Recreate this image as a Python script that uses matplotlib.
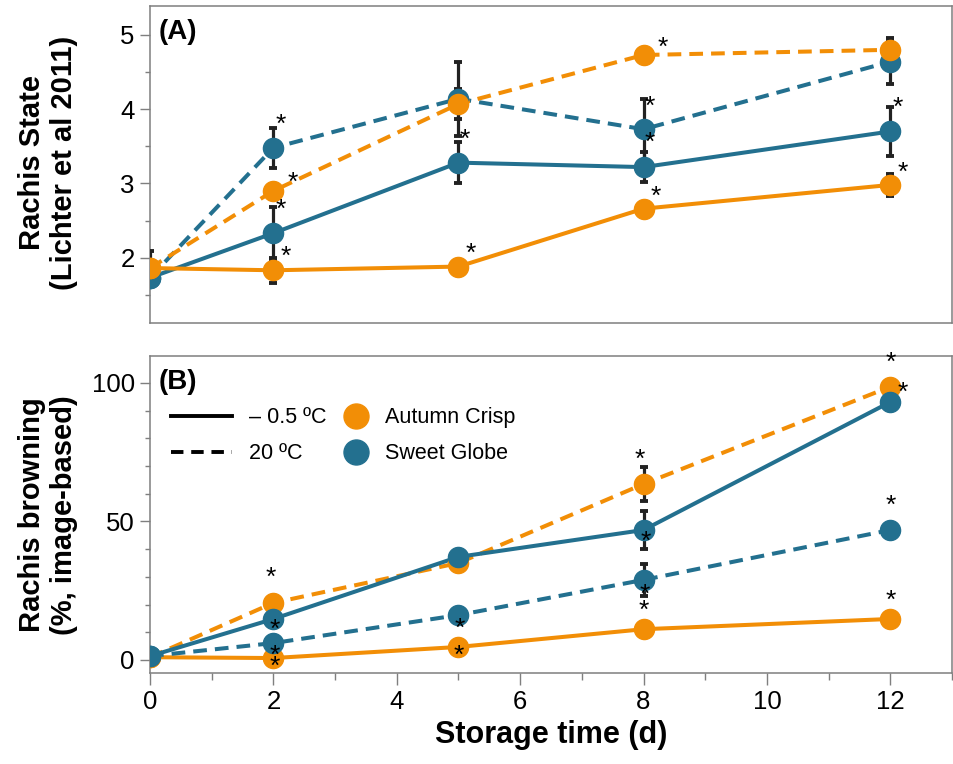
import matplotlib
matplotlib.use("Agg")
import matplotlib.pyplot as plt
from matplotlib.lines import Line2D
from matplotlib.ticker import MultipleLocator
import numpy as np

# ---------------- data ----------------
days = [0, 2, 5, 8, 12]

# Panel A: Rachis state (Lichter et al 2011)
state_ac_cold = [1.86, 1.83, 1.88, 2.66, 2.98]
state_ac_cold_err = [0.23, 0.17, 0.0, 0.0, 0.15]
state_sg_cold = [1.73, 2.33, 3.28, 3.22, 3.70]
state_sg_cold_err = [0.0, 0.35, 0.28, 0.20, 0.33]
state_ac_warm = [1.86, 2.90, 4.07, 4.73, 4.80]
state_ac_warm_err = [0.0, 0.0, 0.20, 0.0, 0.16]
state_sg_warm = [1.73, 3.48, 4.14, 3.73, 4.64]
state_sg_warm_err = [0.0, 0.27, 0.50, 0.41, 0.30]

# Panel B: Rachis browning (%, image-based)
brown_ac_cold = [1.0, 0.7, 4.7, 11.1, 14.8]
brown_ac_cold_err = [0, 0, 0, 0, 0]
brown_sg_cold = [1.4, 14.8, 37.2, 46.9, 93.1]
brown_sg_cold_err = [0, 0, 0, 6.7, 0]
brown_ac_warm = [1.0, 20.6, 35.0, 63.5, 98.6]
brown_ac_warm_err = [0, 0, 0, 6.3, 0]
brown_sg_warm = [1.4, 6.1, 16.2, 28.9, 46.9]
brown_sg_warm_err = [0, 0, 0, 5.8, 0]

# significance stars: day -> (dx, dy) label offset in pixels (image y down)
stars_A = {
    "sg_warm": {2: (7, -23), 8: (6, -22)},
    "ac_warm": {2: (19, -8), 8: (19, -7)},
    "sg_cold": {2: (7, -23), 5: (6, -23), 8: (6, -24), 12: (7, -24)},
    "ac_cold": {2: (12, -13), 5: (12, -13), 8: (12, -12), 12: (12, -12)},
}
stars_B = {
    "ac_warm": {2: (-3, -25), 8: (-4, -24), 12: (0, -24)},
    "sg_cold": {2: (1, 11), 8: (2, 12), 12: (12, -9)},
    "sg_warm": {2: (1, 13), 5: (1, 14), 8: (1, 15), 12: (0, -24)},
    "ac_cold": {2: (1, 9), 5: (0, 9), 8: (0, -18), 12: (0, -18)},
}

cultivars = ["Autumn Crisp", "Sweet Globe"]
temps = ["\u2013 0.5 \u00baC", "20 \u00baC"]
ORANGE = "#F28E06"
BLUE = "#23708F"

NARROW = ["Liberation Sans Narrow", "Liberation Sans", "DejaVu Sans"]
plt.rcParams["font.family"] = ["Liberation Sans", "DejaVu Sans"]

fig = plt.figure(figsize=(9.54, 7.64), dpi=100)
axA = fig.add_axes([150 / 954, 1 - 323 / 764, 802 / 954, 317 / 764])
axB = fig.add_axes([150 / 954, 1 - 673 / 764, 802 / 954, 317 / 764])

PX = 0.72  # points per pixel at dpi 100


def draw_series(ax, y, err, color, ls, stars):
    ax.plot(days, y, color=color, ls=ls, lw=2.9, zorder=2,
            dashes=(3.4, 2.0) if ls == "--" else (None, None))
    e = np.array(err, dtype=float)
    mask = e > 0
    if mask.any():
        ax.errorbar(np.array(days)[mask], np.array(y)[mask], yerr=e[mask],
                    fmt="none", ecolor="#222222", elinewidth=2.3, capsize=2.6,
                    capthick=2.8, zorder=3)
    ax.plot(days, y, ls="none", marker="o", ms=14.5, color=color,
            mec=color, zorder=4)
    for d, (dx, dy) in stars.items():
        i = days.index(d)
        ax.annotate("*", (d, y[i]), xytext=(dx * PX, -dy * PX),
                    textcoords="offset points", ha="center", va="center",
                    fontsize=19, zorder=6, annotation_clip=False)


# Panel A (orange drawn on top)
draw_series(axA, state_sg_cold, state_sg_cold_err, BLUE, "-", stars_A["sg_cold"])
draw_series(axA, state_sg_warm, state_sg_warm_err, BLUE, "--", stars_A["sg_warm"])
draw_series(axA, state_ac_cold, state_ac_cold_err, ORANGE, "-", stars_A["ac_cold"])
draw_series(axA, state_ac_warm, state_ac_warm_err, ORANGE, "--", stars_A["ac_warm"])

# Panel B (blue drawn on top)
draw_series(axB, brown_ac_cold, brown_ac_cold_err, ORANGE, "-", stars_B["ac_cold"])
draw_series(axB, brown_ac_warm, brown_ac_warm_err, ORANGE, "--", stars_B["ac_warm"])
draw_series(axB, brown_sg_warm, brown_sg_warm_err, BLUE, "--", stars_B["sg_warm"])
draw_series(axB, brown_sg_cold, brown_sg_cold_err, BLUE, "-", stars_B["sg_cold"])

GRAY = "#7f7f7f"
for ax in (axA, axB):
    ax.set_xlim(0, 13)
    for s in ax.spines.values():
        s.set_color(GRAY)
        s.set_linewidth(1.1)
    ax.xaxis.set_major_locator(MultipleLocator(2))
    ax.xaxis.set_minor_locator(MultipleLocator(1))
    ax.tick_params(axis="both", which="both", colors=GRAY, labelcolor="black",
                   labelsize=18.5, width=1.0)
    ax.tick_params(axis="y", which="major", length=7, pad=4)
    ax.tick_params(axis="y", which="minor", length=3.6)
    ax.tick_params(axis="x", which="major", length=8.5, pad=4)
    ax.tick_params(axis="x", which="minor", length=5)

axA.set_ylim(1.12, 5.39)
axA.yaxis.set_major_locator(MultipleLocator(1))
axA.yaxis.set_minor_locator(MultipleLocator(0.5))
axA.tick_params(axis="x", which="both", bottom=False, labelbottom=False)

axB.set_ylim(-4.7, 109.7)
axB.yaxis.set_major_locator(MultipleLocator(50))
axB.yaxis.set_minor_locator(MultipleLocator(10))

axA.text(0.011, 0.958, "(A)", transform=axA.transAxes, ha="left", va="top",
         fontsize=20, fontweight="bold")
axB.text(0.011, 0.958, "(B)", transform=axB.transAxes, ha="left", va="top",
         fontsize=20, fontweight="bold")

fig.text(48 / 954, 1 - 163 / 764, "Rachis State\n(Lichter et al 2011)",
         rotation=90, ha="center", va="center", multialignment="center",
         fontsize=21, fontweight="bold", family=NARROW, linespacing=1.2)
fig.text(48 / 954, 1 - 515 / 764, "Rachis browning\n(%, image-based)",
         rotation=90, ha="center", va="center", multialignment="center",
         fontsize=21, fontweight="bold", family=NARROW, linespacing=1.2)
fig.text(551 / 954, 1 - 735 / 764, "Storage time (d)", ha="center", va="center",
         fontsize=22, fontweight="bold", family=NARROW)

line_handles = [
    Line2D([], [], color="black", lw=2.8, ls="-"),
    Line2D([], [], color="black", lw=2.8, dashes=(3.2, 2.0)),
]
dot_handles = [
    Line2D([], [], color=ORANGE, ls="none", marker="o", ms=18),
    Line2D([], [], color=BLUE, ls="none", marker="o", ms=18),
]
legL = axB.legend(line_handles, temps, frameon=False, fontsize=15.5,
                  loc="upper left", bbox_to_anchor=(0.005, 0.892),
                  handlelength=2.8, handletextpad=0.8,
                  labelspacing=0.68, borderpad=0.3)
axB.add_artist(legL)
axB.legend(dot_handles, cultivars, frameon=False, fontsize=15.5,
           loc="upper left", bbox_to_anchor=(0.222, 0.892),
           handlelength=1.0, handletextpad=0.85,
           labelspacing=0.68, borderpad=0.3)

fig.savefig("out.png", dpi=100)
